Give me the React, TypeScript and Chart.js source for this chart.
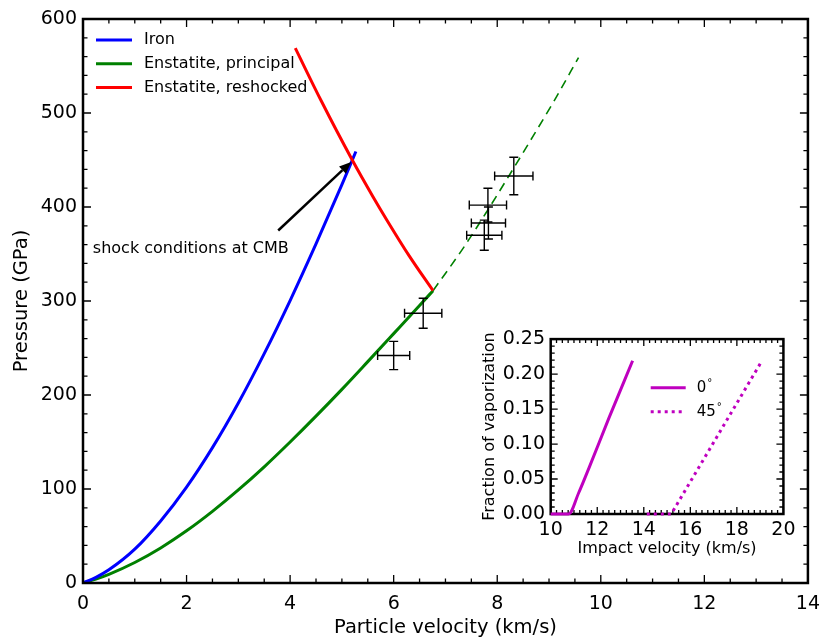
import React, { useEffect, useRef } from "react";
import { Chart, registerables } from "chart.js";
Chart.register(...registerables);

const FONT = "'DejaVu Sans', sans-serif";

// ---- Main chart data (particle velocity km/s, pressure GPa) ----
const ironU = [0, 0.25, 0.5, 1, 1.5, 2, 2.5, 3, 3.5, 4, 4.5, 5, 5.27];
const ironP = [0, 6, 14, 36, 66, 102, 144, 191.5, 244, 300.5, 360.7, 423.7, 459];

const principalU = [0, 0.25, 0.5, 1, 1.5, 2, 2.5, 3, 3.5, 4, 4.5, 5, 5.5, 6, 6.5, 6.76];
const principalP = [0, 4.2, 9.2, 21.8, 37.3, 55.5, 76.2, 99, 123.6, 150, 177.5, 206, 235.5, 265.3, 295.2, 311];

const extrapU = [6.76, 7.34, 7.82, 8.18, 8.6, 9.11, 9.57];
const extrapP = [311, 356, 397, 429, 467, 514, 559];

const reshockU = [4.1, 4.6, 5.2, 5.6, 5.87, 6.3, 6.76];
const reshockP = [569, 513, 450, 411, 386, 348, 311];

const dataU = [6.0, 6.57, 7.75, 7.83, 7.82, 8.32];
const dataP = [242, 287, 370, 383, 402, 433];
const dataUErr = [0.31, 0.36, 0.34, 0.33, 0.36, 0.37];
const dataPErr = [15, 16, 16, 17, 18, 20];

const xTicksMain = [0, 14, 2, 0.5];
const yTicksMain = [0, 600, 100, 20];

const arrowTail = [3.77, 375];
const arrowHead = [5.18, 448];
const noteText = "shock conditions at CMB";
const notePos = [0.19, 356];

const legendLabels = ["Iron", "Enstatite, principal", "Enstatite, reshocked"];
const legendColors = ["#0000ff", "#008000", "#ff0000"];

// ---- Inset data (impact velocity km/s, fraction of vaporization) ----
const v0 = [10, 10.77, 11.2, 11.66, 12.5, 13.52];
const f0 = [0, 0, 0.03, 0.067, 0.137, 0.219];
const v45 = [14.13, 15.18, 19.06];
const f45 = [0, 0, 0.218];
const xTicksInset = [10, 20, 2, 0.25];
const yTicksInset = [0, 0.25, 0.05, 0.01];

const zip = (xs: number[], ys: number[]) => xs.map((x, i) => ({ x, y: ys[i] }));

function frameTicks(chart: any, xt: number[], yt: number[], majorLen: number, minorLen: number) {
  const { ctx, chartArea: a, scales } = chart;
  const sx = scales.x, sy = scales.y;
  ctx.save();
  ctx.strokeStyle = "#000";
  ctx.lineWidth = 1.3;
  const nx = Math.round((xt[1] - xt[0]) / xt[3]);
  for (let i = 0; i <= nx; i++) {
    const v = xt[0] + i * xt[3];
    const r = v / xt[2];
    const major = Math.abs(r - Math.round(r)) < 1e-6;
    const len = major ? majorLen : minorLen;
    const px = sx.getPixelForValue(v);
    ctx.beginPath();
    ctx.moveTo(px, a.bottom); ctx.lineTo(px, a.bottom - len);
    ctx.moveTo(px, a.top); ctx.lineTo(px, a.top + len);
    ctx.stroke();
  }
  const ny = Math.round((yt[1] - yt[0]) / yt[3]);
  for (let i = 0; i <= ny; i++) {
    const v = yt[0] + i * yt[3];
    const r = v / yt[2];
    const major = Math.abs(r - Math.round(r)) < 1e-6;
    const len = major ? majorLen : minorLen;
    const py = sy.getPixelForValue(v);
    ctx.beginPath();
    ctx.moveTo(a.left, py); ctx.lineTo(a.left + len, py);
    ctx.moveTo(a.right, py); ctx.lineTo(a.right - len, py);
    ctx.stroke();
  }
  ctx.lineWidth = 2.5;
  ctx.strokeRect(a.left, a.top, a.right - a.left, a.bottom - a.top);
  ctx.restore();
}

const mainPlugin = {
  id: "mainDecor",
  afterDatasetsDraw(chart: any) {
    const { ctx, chartArea: a, scales } = chart;
    const sx = scales.x, sy = scales.y;
    ctx.save();
    // error bars
    ctx.strokeStyle = "#000";
    ctx.lineWidth = 1.4;
    const cap = 4.5;
    dataU.forEach((u, i) => {
      const p = dataP[i];
      const cx = sx.getPixelForValue(u), cy = sy.getPixelForValue(p);
      const x1 = sx.getPixelForValue(u - dataUErr[i]), x2 = sx.getPixelForValue(u + dataUErr[i]);
      const y1 = sy.getPixelForValue(p - dataPErr[i]), y2 = sy.getPixelForValue(p + dataPErr[i]);
      ctx.beginPath();
      ctx.moveTo(x1, cy); ctx.lineTo(x2, cy);
      ctx.moveTo(cx, y1); ctx.lineTo(cx, y2);
      ctx.moveTo(x1, cy - cap); ctx.lineTo(x1, cy + cap);
      ctx.moveTo(x2, cy - cap); ctx.lineTo(x2, cy + cap);
      ctx.moveTo(cx - cap, y1); ctx.lineTo(cx + cap, y1);
      ctx.moveTo(cx - cap, y2); ctx.lineTo(cx + cap, y2);
      ctx.stroke();
    });
    // arrow
    const tx = sx.getPixelForValue(arrowTail[0]), ty = sy.getPixelForValue(arrowTail[1]);
    const hx = sx.getPixelForValue(arrowHead[0]), hy = sy.getPixelForValue(arrowHead[1]);
    const ang = Math.atan2(hy - ty, hx - tx);
    const hl = 12, hw = 5;
    const bx = hx - hl * Math.cos(ang), by = hy - hl * Math.sin(ang);
    ctx.lineWidth = 2.5;
    ctx.beginPath(); ctx.moveTo(tx, ty); ctx.lineTo(bx, by); ctx.stroke();
    ctx.fillStyle = "#000";
    ctx.beginPath();
    ctx.moveTo(hx, hy);
    ctx.lineTo(bx + hw * Math.sin(ang), by - hw * Math.cos(ang));
    ctx.lineTo(bx - hw * Math.sin(ang), by + hw * Math.cos(ang));
    ctx.closePath(); ctx.fill();
    // annotation text
    ctx.font = `16px ${FONT}`;
    ctx.textAlign = "left";
    ctx.textBaseline = "middle";
    ctx.fillText(noteText, sx.getPixelForValue(notePos[0]), sy.getPixelForValue(notePos[1]));
    // legend
    legendLabels.forEach((lab, i) => {
      const y = a.top + 21 + i * 23.8;
      ctx.strokeStyle = legendColors[i];
      ctx.lineWidth = 3;
      ctx.beginPath(); ctx.moveTo(a.left + 13, y); ctx.lineTo(a.left + 49, y); ctx.stroke();
      ctx.fillStyle = "#000";
      ctx.fillText(lab, a.left + 61, y);
    });
    ctx.restore();
    frameTicks(chart, xTicksMain, yTicksMain, 8, 4.5);
  },
};

const insetPlugin = {
  id: "insetDecor",
  beforeDatasetsDraw(chart: any) {
    const { ctx, chartArea: a } = chart;
    ctx.save();
    ctx.fillStyle = "#fff";
    ctx.fillRect(a.left, a.top, a.right - a.left, a.bottom - a.top);
    ctx.restore();
    frameTicks(chart, xTicksInset, yTicksInset, 7, 4);
  },
  afterDatasetsDraw(chart: any) {
    const { ctx, chartArea: a } = chart;
    ctx.save();
    const labels = ["0", "45"];
    labels.forEach((lab, i) => {
      const y = a.top + 48.7 + i * 24;
      ctx.strokeStyle = "#bf00bf";
      ctx.lineWidth = 3;
      ctx.setLineDash(i === 0 ? [] : [3, 4]);
      ctx.beginPath(); ctx.moveTo(a.left + 100, y); ctx.lineTo(a.left + 135, y); ctx.stroke();
      ctx.setLineDash([]);
      ctx.fillStyle = "#000";
      ctx.font = `15px ${FONT}`;
      ctx.textAlign = "left";
      ctx.textBaseline = "middle";
      const tx = a.left + 146;
      ctx.fillText(lab, tx, y);
      const w = ctx.measureText(lab).width;
      ctx.font = `10px ${FONT}`;
      ctx.fillText("\u00b0", tx + w + 1, y - 4);
    });
    ctx.restore();
  },
};

export default function App() {
  const mainRef = useRef<HTMLCanvasElement>(null);
  const insetRef = useRef<HTMLCanvasElement>(null);

  useEffect(() => {
    document.body.style.margin = "0";
    const common = {
      showLine: true,
      pointRadius: 0,
      fill: false,
      tension: 0,
    };
    const tickFont = { size: 19, family: FONT };
    const titleFont = { size: 19.5, family: FONT };
    const main = new Chart(mainRef.current!, {
      type: "scatter",
      data: {
        datasets: [
          { ...common, label: "Iron", data: zip(ironU, ironP), borderColor: "#0000ff", borderWidth: 3, order: 1, cubicInterpolationMode: "monotone" },
          { ...common, label: "Enstatite, principal", data: zip(principalU, principalP), borderColor: "#008000", borderWidth: 3, order: 2, cubicInterpolationMode: "monotone" },
          { ...common, label: "Enstatite, reshocked", data: zip(reshockU, reshockP), borderColor: "#ff0000", borderWidth: 3, order: 0, cubicInterpolationMode: "monotone" },
          { ...common, label: "extrapolated", data: zip(extrapU, extrapP), borderColor: "#008000", borderWidth: 1.6, borderDash: [9, 6], order: 3, cubicInterpolationMode: "monotone" },
          { label: "data", data: zip(dataU, dataP), pointRadius: 0, showLine: false, order: 4 },
        ] as any,
      },
      options: {
        animation: false,
        responsive: false,
        devicePixelRatio: 1,
        layout: { padding: { left: 10.6, top: 19, right: 15, bottom: 2.6 } },
        plugins: { legend: { display: false }, tooltip: { enabled: false } },
        scales: {
          x: {
            type: "linear", min: 0, max: 14,
            afterFit: (s: any) => { s.height = 56.4; },
            grid: { display: false, drawTicks: false },
            border: { display: false },
            ticks: { stepSize: 2, color: "#000", font: tickFont, padding: 10, maxRotation: 0, autoSkip: false },
            title: { display: true, text: "Particle velocity (km/s)", color: "#000", font: titleFont, padding: 0 },
          },
          y: {
            type: "linear", min: 0, max: 600,
            afterFit: (s: any) => { s.width = 72.4; },
            grid: { display: false, drawTicks: false },
            border: { display: false },
            ticks: { stepSize: 100, color: "#000", font: tickFont, padding: 6, autoSkip: false },
            title: { display: true, text: "Pressure (GPa)", color: "#000", font: titleFont, padding: 0 },
          },
        },
      } as any,
      plugins: [mainPlugin],
    });

    const inset = new Chart(insetRef.current!, {
      type: "scatter",
      data: {
        datasets: [
          { ...common, label: "0", data: zip(v0, f0), borderColor: "#bf00bf", borderWidth: 3, clip: false, cubicInterpolationMode: "monotone" },
          { ...common, label: "45", data: zip(v45, f45), borderColor: "#bf00bf", borderWidth: 3, clip: false, borderDash: [3, 4] },
        ] as any,
      },
      options: {
        animation: false,
        responsive: false,
        devicePixelRatio: 1,
        layout: { padding: { left: 2.4, top: 15.3, right: 12.7, bottom: 3.1 } },
        plugins: { legend: { display: false }, tooltip: { enabled: false } },
        scales: {
          x: {
            type: "linear", min: 10, max: 20,
            afterFit: (s: any) => { s.height = 44.9; },
            grid: { display: false, drawTicks: false },
            border: { display: false },
            ticks: { stepSize: 2, color: "#000", font: tickFont, padding: 4.5, maxRotation: 0, autoSkip: false },
            title: { display: true, text: "Impact velocity (km/s)", color: "#000", font: { size: 16, family: FONT }, padding: 0 },
          },
          y: {
            type: "linear", min: 0, max: 0.25,
            afterFit: (s: any) => { s.width = 70.3; },
            grid: { display: false, drawTicks: false },
            border: { display: false },
            ticks: { stepSize: 0.05, color: "#000", font: tickFont, padding: 5.7, autoSkip: false, callback: (v: any) => Number(v).toFixed(2) },
            title: { display: true, text: "Fraction of vaporization", color: "#000", font: { size: 16, family: FONT }, padding: 0 },
          },
        },
      } as any,
      plugins: [insetPlugin],
    });

    return () => {
      main.destroy();
      inset.destroy();
    };
  }, []);

  return (
    <div style={{ position: "relative", width: 830, height: 642, background: "#fff" }}>
      <canvas ref={mainRef} width={830} height={642} style={{ position: "absolute", left: 0, top: 0, width: 830, height: 642 }} />
      <canvas ref={insetRef} width={322} height={240} style={{ position: "absolute", left: 478, top: 322, width: 322, height: 240 }} />
    </div>
  );
}
